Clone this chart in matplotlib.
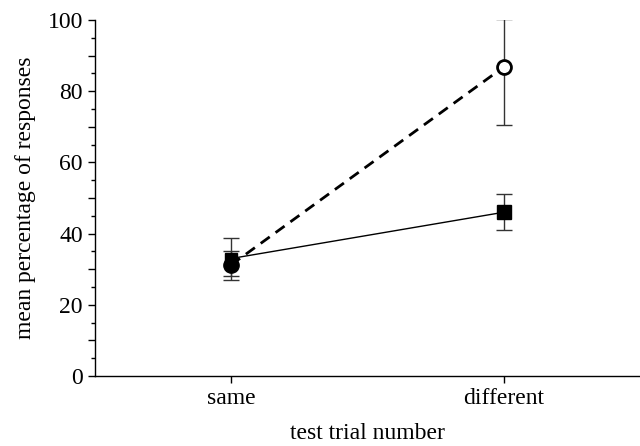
import numpy as np
import matplotlib
matplotlib.use("Agg")
import matplotlib.pyplot as plt
from matplotlib.ticker import MultipleLocator, FuncFormatter

plt.rcParams['font.family'] = ['Liberation Serif', 'DejaVu Serif']

# Dane
conditions = ["same", "different"]
square_mean = [33.0, 46.0]
square_lo = [28.0, 41.0]
square_hi = [38.7, 51.2]
circle_mean = [31.2, 86.8]
circle_lo = [27.0, 70.6]
circle_hi = [35.0, 100.2]

x = np.arange(len(conditions))
sq_err = [np.subtract(square_mean, square_lo), np.subtract(square_hi, square_mean)]
ci_err = [np.subtract(circle_mean, circle_lo), np.subtract(circle_hi, circle_mean)]

fig = plt.figure(figsize=(6.4, 4.46), dpi=100)
ax = fig.add_axes([0.148, 0.157, 0.852, 0.798])

ax.errorbar(x, square_mean, yerr=sq_err, fmt='none', ecolor='#333333',
            elinewidth=1.0, capsize=6, capthick=1.0, zorder=2)
ax.errorbar(x, circle_mean, yerr=ci_err, fmt='none', ecolor='#333333',
            elinewidth=1.0, capsize=6, capthick=1.0, zorder=2)

ax.plot(x, circle_mean, ls=(0, (4, 2.6)), lw=2.0, color='black', zorder=3)
ax.plot(x, square_mean, ls='-', lw=1.0, color='black', zorder=3)

ax.plot(x[1], circle_mean[1], 'o', ms=10, mfc='white', mec='black', mew=2.0, zorder=4)
ax.plot(x[0], square_mean[0], 's', ms=9, color='black', zorder=4)
ax.plot(x[1], square_mean[1], 's', ms=10, color='black', zorder=4)
ax.plot(x[0], circle_mean[0], 'o', ms=11, color='black', zorder=5)

ax.set_xlim(-0.5, 1.5)
ax.set_ylim(0, 100)
ax.set_xticks(x)
ax.set_xticklabels(conditions)
ax.yaxis.set_major_locator(MultipleLocator(10))
ax.yaxis.set_minor_locator(MultipleLocator(5))
ax.yaxis.set_major_formatter(FuncFormatter(lambda v, p: f"{int(v)}" if int(v) % 20 == 0 else ""))

for s in ['top', 'right']:
    ax.spines[s].set_visible(False)
for s in ['left', 'bottom']:
    ax.spines[s].set_linewidth(1.0)

ax.tick_params(axis='both', which='major', direction='out', length=5, width=1.0, labelsize=17)
ax.tick_params(axis='y', which='minor', direction='out', length=3, width=1.0)
ax.tick_params(axis='x', pad=4)

ax.set_xlabel("test trial number", fontsize=17, labelpad=10)
ax.set_ylabel("mean percentage of responses", fontsize=17, labelpad=8)

fig.savefig("out.png", dpi=100)
